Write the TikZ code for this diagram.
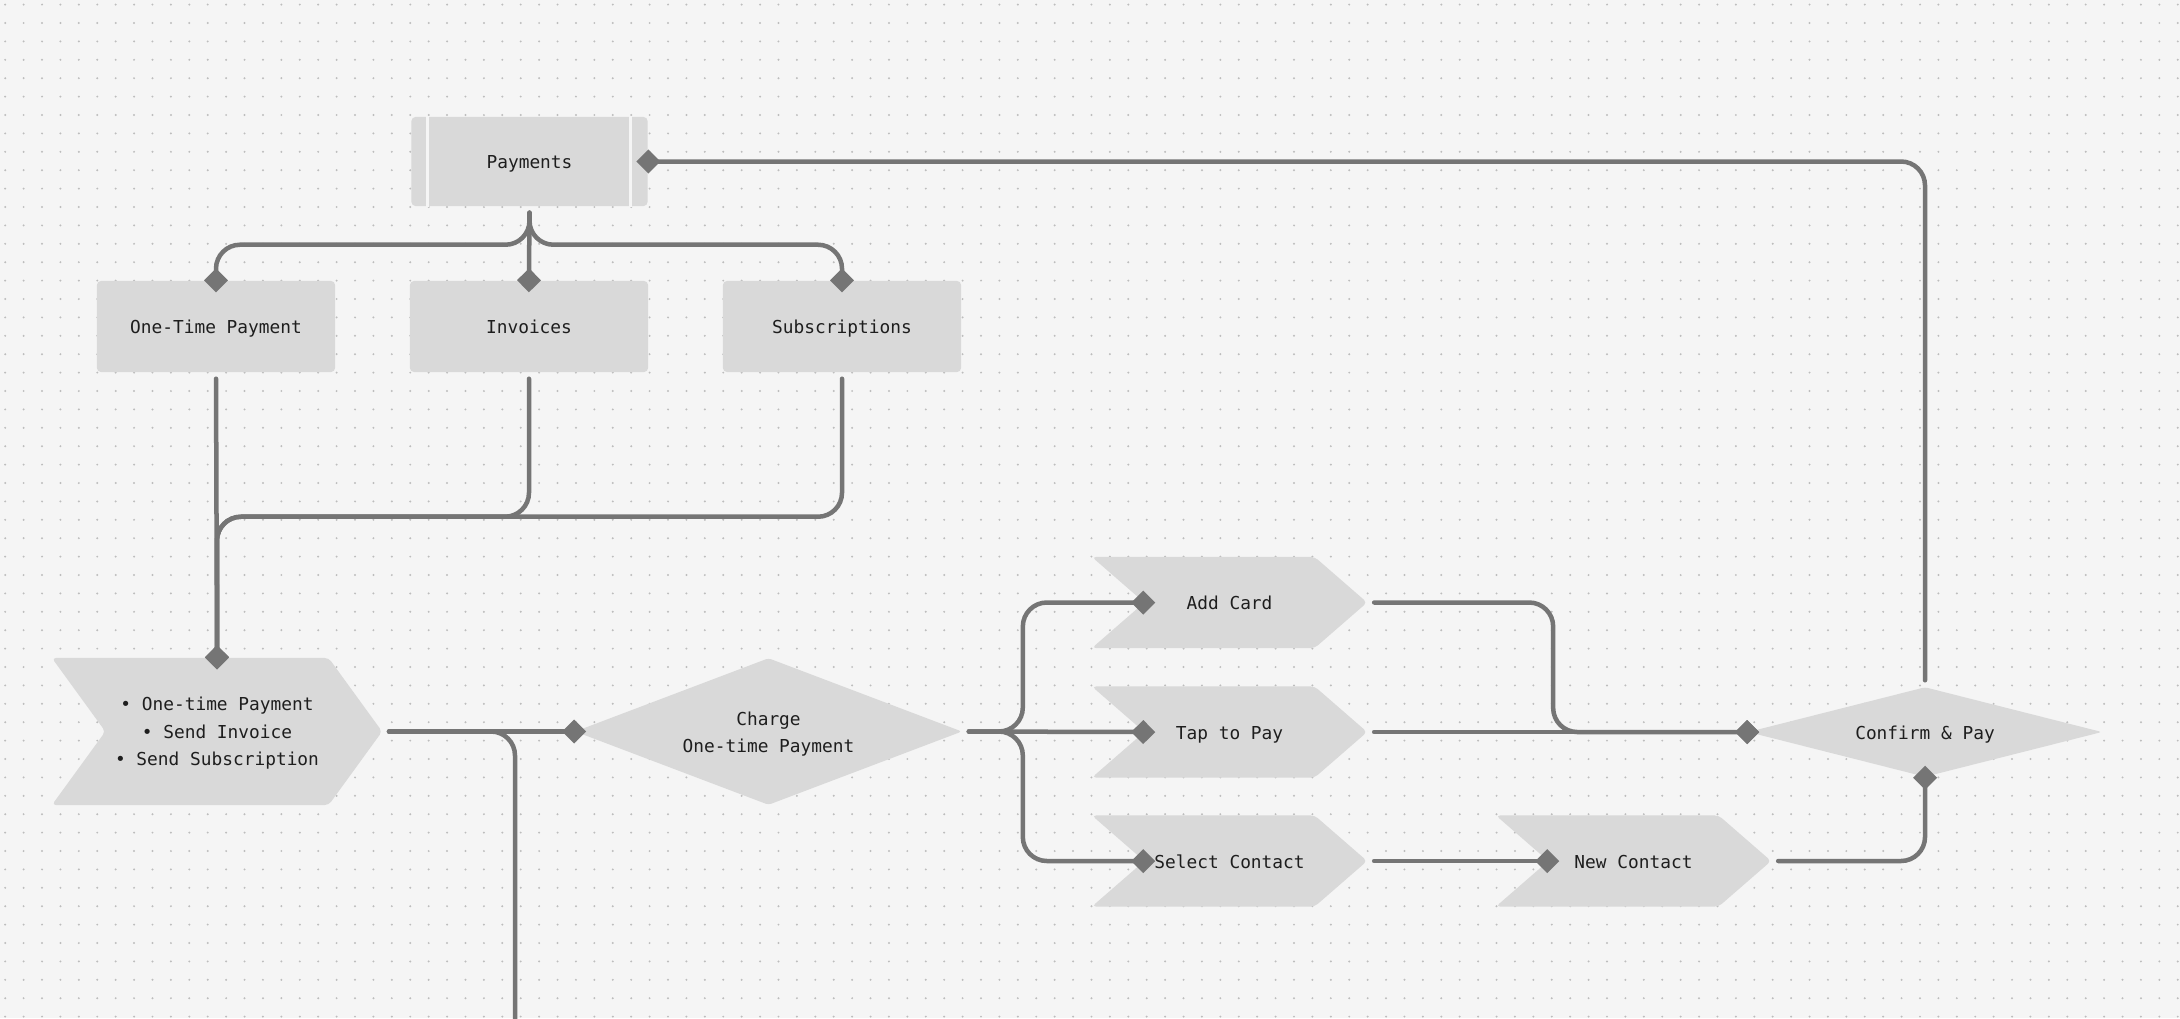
\documentclass[tikz,border=0pt]{standalone}
\usepackage{fontspec}
\setmainfont{DejaVu Sans Mono}
\usetikzlibrary{shapes.geometric, shapes.symbols, arrows.meta, positioning, calc}
\definecolor{bgcol}{HTML}{F5F5F5}
\definecolor{nodefill}{HTML}{D9D9D9}
\definecolor{linecol}{HTML}{757575}
\definecolor{dotcol}{HTML}{BDBDBD}
\definecolor{txtcol}{HTML}{1E1E1E}

\begin{document}
\begin{tikzpicture}[
        x=0.01cm, y=-0.01cm,
        font=\fontsize{5.07pt}{7.8pt}\selectfont, text=txtcol,
        box/.style={rectangle, fill=nodefill, rounded corners=0.04cm, minimum width=2.38cm, minimum height=0.91cm, inner sep=0pt, text height=0.18cm, text depth=0.04cm},
        chev/.style={signal, signal from=west, signal to=east, fill=nodefill, rounded corners=0.04cm, inner sep=0pt},
        gate/.style={diamond, fill=nodefill, rounded corners=0.03cm, inner sep=0pt},
        flow/.style={draw=linecol, line width=0.045cm, line cap=round, rounded corners=0.24cm, shorten <=0.06cm},
        link/.style={flow, shorten >=-0.12cm, -{Diamond[length=0.24cm, width=0.24cm, line width=0pt]}},
        dotrow/.style={dotcol, line width=0.022cm, line cap=round, dash pattern=on 0pt off 0.184cm}
    ]
        % canvas and dot grid
        \useasboundingbox (0,0) rectangle (2180,1018);
        \fill[bgcol] (0,0) rectangle (2180,1018);
        \foreach \j in {0,...,55}
            \draw[dotrow] (5.2,{4.6+18.4*\j}) -- (2180,{4.6+18.4*\j});

        % nodes
        \node[box, minimum width=2.36cm, minimum height=0.89cm] (pay) at (529.5,161.5) {Payments};
        \draw[bgcol, line width=0.03cm] ([xshift=0.17cm]pay.north west) -- ([xshift=0.17cm]pay.south west);
        \draw[bgcol, line width=0.03cm] ([xshift=-0.18cm]pay.north east) -- ([xshift=-0.18cm]pay.south east);
        \node[box] (otp) at (216,326.5) {One-Time Payment};
        \node[box] (inv) at (529,326.5) {Invoices};
        \node[box] (sub) at (842,326.5) {Subscriptions};
        \node[chev, minimum width=3.30cm, minimum height=1.47cm, signal pointer angle=108, align=center, text height=0.72cm, text depth=0.04cm] (menu) at (217,731.5) {• One-time Payment\\• Send Invoice\\• Send Subscription};
        \node[gate, minimum width=3.87cm, minimum height=1.47cm, shape aspect=2.63, align=center, text height=0.46cm, text depth=0.04cm] (charge) at (768.5,731.5) {Charge\\One-time Payment};
        \node[chev, minimum width=2.75cm, minimum height=0.91cm, signal pointer angle=82, text height=0.18cm, text depth=0.04cm] (add) at (1229.5,602.5) {Add Card};
        \node[chev, minimum width=2.75cm, minimum height=0.91cm, signal pointer angle=82, text height=0.18cm, text depth=0.04cm] (tap) at (1229.5,732) {Tap to Pay};
        \node[chev, minimum width=2.75cm, minimum height=0.91cm, signal pointer angle=82, text height=0.18cm, text depth=0.04cm] (sel) at (1229.5,861) {Select Contact};
        \node[chev, minimum width=2.75cm, minimum height=0.91cm, signal pointer angle=82, text height=0.18cm, text depth=0.04cm] (new) at (1633.5,861) {New Contact};
        \node[gate, minimum width=3.54cm, minimum height=0.90cm, shape aspect=3.93, text height=0.18cm, text depth=0.04cm] (confirm) at (1925,732) {Confirm \& Pay};
        \coordinate (exit) at (515,1030);

        % connectors
        \draw[link] (pay.south) -- ++(0,38) -| (otp.north);
        \draw[link] (pay.south) -- (inv.north);
        \draw[link] (pay.south) -- ++(0,38) -| (sub.north);
        \draw[link] (otp.south) -- (menu.north);
        \draw[link] (inv.south) -- ++(0,144) -| (menu.north);
        \draw[link] (sub.south) -- ++(0,144) -| (menu.north);
        \draw[link] (menu.east) -- (charge.west);
        \draw[flow] (menu.east) -| (exit);
        \draw[link] (charge.east) -- ++(60,0) |- (add.west);
        \draw[link] (charge.east) -- (tap.west);
        \draw[link] (charge.east) -- ++(60,0) |- (sel.west);
        \draw[link] (add.east) -- ++(185,0) |- (confirm.west);
        \draw[link] (tap.east) -- (confirm.west);
        \draw[link] (sel.east) -- (new.west);
        \draw[link] (new.east) -| (confirm.south);
        \draw[link] (confirm.north) |- (pay.east);
    \end{tikzpicture}
\end{document}
